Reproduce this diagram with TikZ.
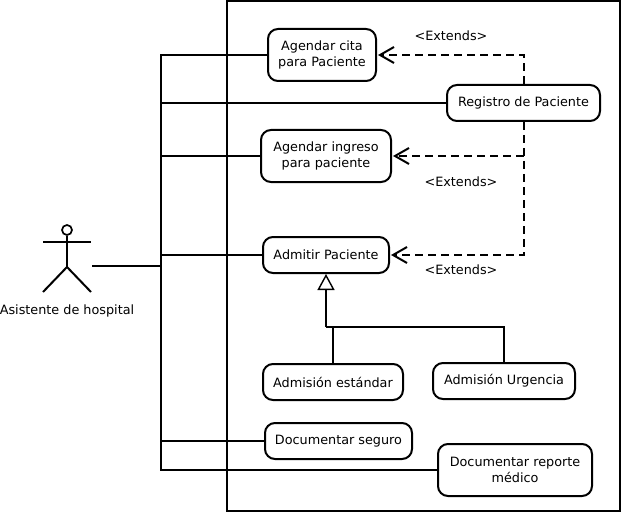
\documentclass[tikz,border=0pt]{standalone}
\usepackage{fontspec}
\setmainfont{DejaVu Sans}
\usetikzlibrary{arrows.meta,positioning}

\begin{document}
\begin{tikzpicture}[x=1pt,y=-1pt]
\tikzset{
     caso/.style={draw, line width=2pt, rounded corners=10pt, inner sep=0pt, align=center},
     etiqueta/.style={inner sep=0pt},
     linea/.style={line width=2pt},
     extiende/.style={line width=2pt, dash pattern=on 8pt off 5pt, shorten >=1pt, -{Straight Barb[length=14pt,width=16pt,line width=2pt]}},
     herencia/.style={line width=2pt, -{Triangle[open,fill=white,length=16pt,width=17pt,line width=1.4pt]}}}
\fontsize{12.8}{16}\selectfont
\useasboundingbox (0,0) rectangle (623,513);

% The system boundary
\draw [line width=2.2pt] (227,1) rectangle (620,511);

% The use cases
\node (cita)     at (322,55)    [caso, minimum width=108pt, minimum height=52pt] {Agendar cita\\para Paciente};
\node (registro) at (523.5,103) [caso, minimum width=153pt, minimum height=36pt] {Registro de Paciente};
\node (ingreso)  at (326,156)   [caso, minimum width=130pt, minimum height=52pt] {Agendar ingreso\\para paciente};
\node (admitir)  at (326,255)   [caso, minimum width=126pt, minimum height=36pt] {Admitir Paciente};
\node (estandar) at (333,382)   [caso, minimum width=140pt, minimum height=36pt] {Admisión estándar};
\node (urgencia) at (504,381)   [caso, minimum width=142pt, minimum height=36pt] {Admisión Urgencia};
\node (seguro)   at (338.5,441) [caso, minimum width=147pt, minimum height=36pt] {Documentar seguro};
\node (reporte)  at (515,470)   [caso, minimum width=154pt, minimum height=52pt] {Documentar reporte\\médico};

% The actor
\node (cabeza) at (67,230) [circle, draw, line width=1.7pt, minimum size=10pt, inner sep=0pt] {};
\coordinate (cadera) at (67,267);
\coordinate (hombro) at (67,242);
\draw [linea] (cabeza.south) -- (cadera);
\draw [linea] (43,242) -- (hombro) -- (91,242);
\draw [linea] (43,292) -- (cadera) -- (91,292);
\node (asistente) at (67,311) [etiqueta] {Asistente de hospital};

% The bus from the actor to the use cases
\coordinate (salida) at (92,266);
\coordinate (bus) at (161,266);
\draw [linea] (salida) -- (bus);
\draw [linea] (cita.west) -- (161,55) -- (161,470) -- (reporte.west);
\draw [linea] (registro.west) -- (161,103);
\draw [linea] (ingreso.west) -- (161,156);
\draw [linea] (admitir.west) -- (161,255);
\draw [linea] (seguro.west) -- (161,441);

% The extends arrows
\coordinate (cruce) at (registro.south |- ingreso.east);
\draw [extiende] (registro.north) |- (cita.east);
\draw [extiende] (registro.south) |- (admitir.east);
\draw [extiende] (cruce) -- (ingreso.east);

\node (ext1) at (451,36)  [etiqueta] {<Extends>};
\node (ext2) at (461,182) [etiqueta] {<Extends>};
\node (ext3) at (461,270) [etiqueta] {<Extends>};

% The generalisation
\coordinate (union) at (admitir.south |- 0,327);
\draw [herencia] (union) -- (admitir.south);
\draw [linea] (union) -| (estandar.north);
\draw [linea] (union) -| (urgencia.north);
\end{tikzpicture}
\end{document}
